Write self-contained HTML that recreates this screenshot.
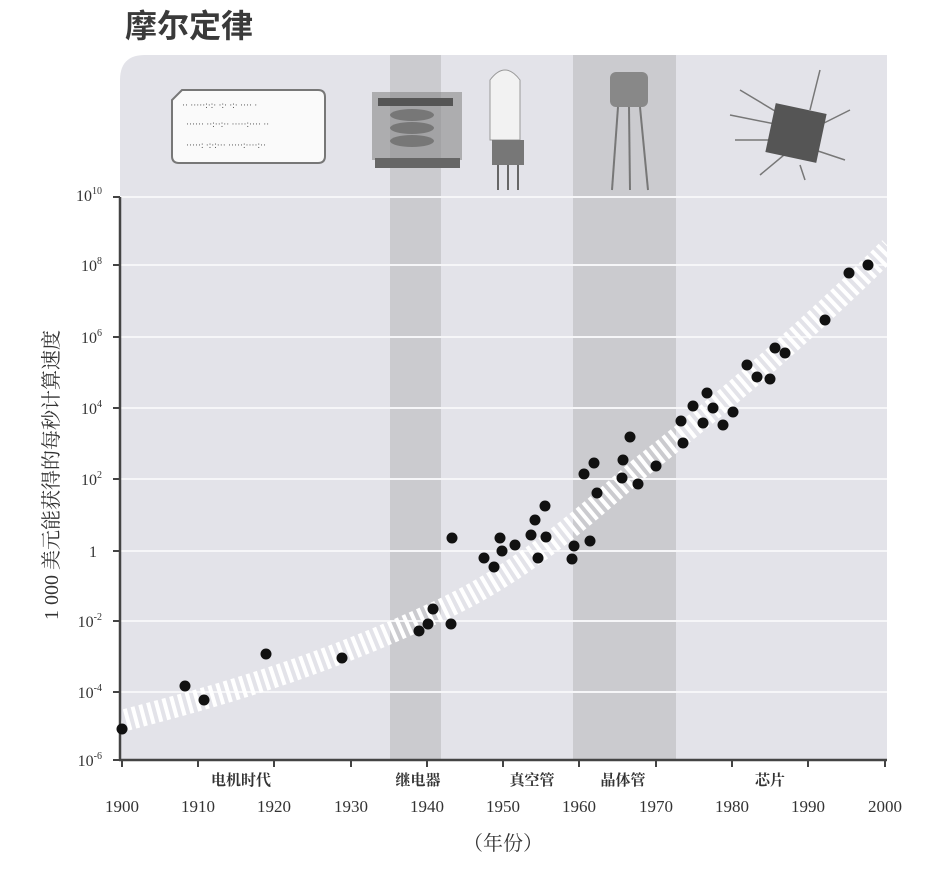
<!DOCTYPE html>
<html><head><meta charset="utf-8"><style>
body{margin:0;background:#fff;width:945px;height:886px;overflow:hidden}
svg text{font-family:"Liberation Serif","Noto Serif CJK SC",serif}
</style></head><body>
<svg width="945" height="886" viewBox="0 0 945 886" xmlns="http://www.w3.org/2000/svg">
<text x="125" y="37" font-size="32" font-weight="bold" fill="#3a3a3a" style="font-family:'Liberation Sans','Noto Sans CJK SC',sans-serif">摩尔定律</text>
<path d="M120,760 V80 Q120,55 145,55 H887 V760 Z" fill="#e3e3e9"/>
<rect x="390" y="55" width="51" height="705" fill="#cbcbcf"/>
<rect x="573" y="55" width="103" height="705" fill="#cbcbcf"/>
<g stroke="#f6f6f8" stroke-width="2">
<line x1="120" y1="197" x2="887" y2="197"/><line x1="120" y1="265" x2="887" y2="265"/>
<line x1="120" y1="337" x2="887" y2="337"/><line x1="120" y1="408" x2="887" y2="408"/>
<line x1="120" y1="479" x2="887" y2="479"/><line x1="120" y1="551" x2="887" y2="551"/>
<line x1="120" y1="621" x2="887" y2="621"/><line x1="120" y1="692" x2="887" y2="692"/>
</g>
<path d="M182,90 H318 Q325,90 325,97 V156 Q325,163 318,163 H179 Q172,163 172,156 V100 Z" fill="#fafafa" stroke="#777" stroke-width="2"/>
<g fill="#555" font-size="9"><text x="182" y="108">·· ·····:·:· ·:· ·:·  ···· ·</text><text x="186" y="127">······ ··:··:··  ·····:···· ··</text><text x="186" y="148">·····: ·:·:··· ·····:····:··</text></g>
<rect x="372" y="92" width="90" height="68" fill="#888" opacity=".6"/>
<rect x="378" y="98" width="75" height="8" fill="#555"/>
<g fill="#777"><ellipse cx="412" cy="115" rx="22" ry="6"/><ellipse cx="412" cy="128" rx="22" ry="6"/><ellipse cx="412" cy="141" rx="22" ry="6"/></g>
<rect x="375" y="158" width="85" height="10" fill="#666"/>
<path d="M490,80 Q505,60 520,80 V140 H490 Z" fill="#f2f2f2" stroke="#999"/>
<rect x="492" y="140" width="32" height="25" fill="#777"/>
<g stroke="#666" stroke-width="2"><line x1="498" y1="165" x2="498" y2="190"/><line x1="508" y1="165" x2="508" y2="190"/><line x1="518" y1="165" x2="518" y2="190"/></g>
<rect x="610" y="72" width="38" height="35" rx="6" fill="#888"/>
<g stroke="#777" stroke-width="2"><line x1="618" y1="107" x2="612" y2="190"/><line x1="629" y1="107" x2="630" y2="190"/><line x1="640" y1="107" x2="648" y2="190"/></g>
<g stroke="#777" stroke-width="1.5" fill="none"><path d="M740,90 L790,120 M735,140 L780,140 M760,175 L790,150 M820,70 L810,110 M850,110 L820,125 M845,160 L815,150 M730,115 L780,125 M800,165 L805,180"/></g>
<rect x="770" y="108" width="52" height="50" fill="#555" transform="rotate(12 796 133)"/>
<path d="M118,722 C200,700 300,675 430,615 C520,575 580,520 640,468 C720,405 800,338 890,248" fill="none" stroke="#fff" stroke-width="22" stroke-dasharray="4 4"/>
<g stroke="#444" stroke-width="2.5"><line x1="120" y1="197" x2="120" y2="761"/><line x1="119" y1="760" x2="887" y2="760"/></g>
<g stroke="#444" stroke-width="2">
<line x1="113" y1="197" x2="120" y2="197"/><line x1="113" y1="265" x2="120" y2="265"/><line x1="113" y1="337" x2="120" y2="337"/><line x1="113" y1="408" x2="120" y2="408"/><line x1="113" y1="479" x2="120" y2="479"/><line x1="113" y1="551" x2="120" y2="551"/><line x1="113" y1="621" x2="120" y2="621"/><line x1="113" y1="692" x2="120" y2="692"/><line x1="113" y1="760" x2="120" y2="760"/>
<line x1="122" y1="760" x2="122" y2="767"/><line x1="198" y1="760" x2="198" y2="767"/><line x1="274" y1="760" x2="274" y2="767"/><line x1="351" y1="760" x2="351" y2="767"/><line x1="427" y1="760" x2="427" y2="767"/><line x1="503" y1="760" x2="503" y2="767"/><line x1="579" y1="760" x2="579" y2="767"/><line x1="656" y1="760" x2="656" y2="767"/><line x1="732" y1="760" x2="732" y2="767"/><line x1="808" y1="760" x2="808" y2="767"/><line x1="885" y1="760" x2="885" y2="767"/>
</g>
<g font-size="16" fill="#333" text-anchor="end">
<text x="102" y="201">10<tspan font-size="10" dy="-7">10</tspan></text>
<text x="102" y="271">10<tspan font-size="10" dy="-7">8</tspan></text>
<text x="102" y="343">10<tspan font-size="10" dy="-7">6</tspan></text>
<text x="102" y="414">10<tspan font-size="10" dy="-7">4</tspan></text>
<text x="102" y="485">10<tspan font-size="10" dy="-7">2</tspan></text>
<text x="97" y="557">1</text>
<text x="102" y="627">10<tspan font-size="10" dy="-7">-2</tspan></text>
<text x="102" y="698">10<tspan font-size="10" dy="-7">-4</tspan></text>
<text x="102" y="766">10<tspan font-size="10" dy="-7">-6</tspan></text>
</g>
<g font-size="17" fill="#333" text-anchor="middle">
<text x="122" y="812">1900</text><text x="198" y="812">1910</text><text x="274" y="812">1920</text><text x="351" y="812">1930</text><text x="427" y="812">1940</text><text x="503" y="812">1950</text><text x="579" y="812">1960</text><text x="656" y="812">1970</text><text x="732" y="812">1980</text><text x="808" y="812">1990</text><text x="885" y="812">2000</text>
</g>
<g font-size="15" fill="#333" font-weight="bold" text-anchor="middle">
<text x="241" y="785">电机时代</text><text x="418" y="785">继电器</text><text x="532" y="785">真空管</text><text x="623" y="785">晶体管</text><text x="770" y="785">芯片</text>
</g>
<text x="503" y="850" font-size="20" fill="#333" text-anchor="middle">（年份）</text>
<text transform="translate(58,475) rotate(-90)" font-size="20" fill="#333" text-anchor="middle">1 000 美元能获得的每秒计算速度</text>
<g fill="#111">
<circle cx="122" cy="729" r="5.5"/><circle cx="185" cy="686" r="5.5"/><circle cx="204" cy="700" r="5.5"/><circle cx="266" cy="654" r="5.5"/><circle cx="342" cy="658" r="5.5"/><circle cx="419" cy="631" r="5.5"/><circle cx="428" cy="624" r="5.5"/><circle cx="433" cy="609" r="5.5"/><circle cx="451" cy="624" r="5.5"/><circle cx="452" cy="538" r="5.5"/><circle cx="484" cy="558" r="5.5"/><circle cx="494" cy="567" r="5.5"/><circle cx="500" cy="538" r="5.5"/><circle cx="502" cy="551" r="5.5"/><circle cx="515" cy="545" r="5.5"/><circle cx="531" cy="535" r="5.5"/><circle cx="535" cy="520" r="5.5"/><circle cx="538" cy="558" r="5.5"/><circle cx="545" cy="506" r="5.5"/><circle cx="546" cy="537" r="5.5"/><circle cx="572" cy="559" r="5.5"/><circle cx="574" cy="546" r="5.5"/><circle cx="584" cy="474" r="5.5"/><circle cx="590" cy="541" r="5.5"/><circle cx="594" cy="463" r="5.5"/><circle cx="597" cy="493" r="5.5"/><circle cx="622" cy="478" r="5.5"/><circle cx="623" cy="460" r="5.5"/><circle cx="630" cy="437" r="5.5"/><circle cx="638" cy="484" r="5.5"/><circle cx="656" cy="466" r="5.5"/><circle cx="681" cy="421" r="5.5"/><circle cx="683" cy="443" r="5.5"/><circle cx="693" cy="406" r="5.5"/><circle cx="703" cy="423" r="5.5"/><circle cx="707" cy="393" r="5.5"/><circle cx="713" cy="408" r="5.5"/><circle cx="723" cy="425" r="5.5"/><circle cx="733" cy="412" r="5.5"/><circle cx="747" cy="365" r="5.5"/><circle cx="757" cy="377" r="5.5"/><circle cx="770" cy="379" r="5.5"/><circle cx="775" cy="348" r="5.5"/><circle cx="785" cy="353" r="5.5"/><circle cx="825" cy="320" r="5.5"/><circle cx="849" cy="273" r="5.5"/><circle cx="868" cy="265" r="5.5"/>
</g>
</svg>
</body></html>
